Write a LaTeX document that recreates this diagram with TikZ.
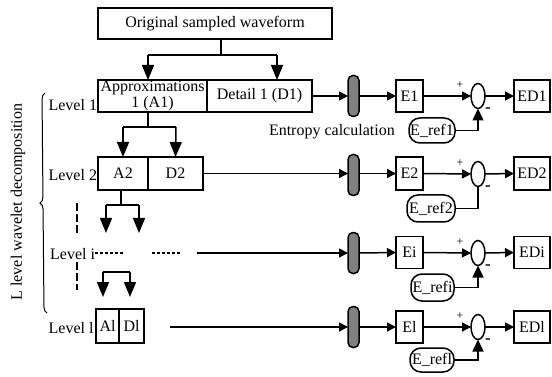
\documentclass[tikz,border=0pt]{standalone}
\usepackage{fontspec}
\setmainfont{Liberation Serif}
\usetikzlibrary{arrows.meta,shapes.geometric,decorations.pathreplacing}
\begin{document}
\begin{tikzpicture}[x=1pt,y=-1pt,
  font=\fontsize{16}{14}\selectfont,
  every node/.style={inner sep=0pt, outer sep=0pt},
  lw/.style={line width=1.5pt},
  box/.style={draw, lw},
  bar/.style={draw, lw, fill=black!50, rounded corners=5pt, minimum width=11pt, minimum height=41pt},
  sum/.style={draw, lw, ellipse, minimum width=14pt, minimum height=25pt},
  refbox/.style={draw, lw, rounded corners=11pt, minimum width=46pt, minimum height=26pt},
  arr/.style={lw, -{Triangle[length=9pt,width=9pt]}},
  bigarr/.style={lw, -{Triangle[length=15pt,width=12pt]}},
  uparr/.style={lw, -{Triangle[length=12pt,width=11pt]}},
  sign/.style={font=\fontsize{12}{12}\selectfont},
  minus/.style={font=\bfseries\fontsize{17}{17}\selectfont},
  lvl/.style={anchor=base east},
  dsh/.style={lw, dash pattern=on 3pt off 2pt},
  vdsh/.style={lw, dash pattern=on 8pt off 3pt}
]
\useasboundingbox (0,0) rectangle (552,377);

% decomposition tree
\node[box, minimum width=234pt, minimum height=31pt] (orig) at (215,23.5) {Original sampled waveform};
\node[box, minimum width=109pt, minimum height=32pt, align=center, font=\fontsize{16}{15.5}\selectfont] (A1) at (152.5,96) {Approximations\\1 (A1)};
\node[box, minimum width=105pt, minimum height=32pt] (D1) at (259.5,96) {Detail 1 (D1)};
\node[box, minimum width=50pt, minimum height=33pt] (A2) at (123,173.5) {A2};
\node[box, minimum width=55pt, minimum height=33pt] (D2) at (175.5,173.5) {D2};
\node[box, minimum width=23pt, minimum height=34pt] (Al) at (107.5,326) {Al};
\node[box, minimum width=25pt, minimum height=34pt] (Dl) at (131.5,326) {Dl};

\coordinate (s0) at (221,39.5);
\coordinate (s0m) at (221,55);
\coordinate (s0l) at (148,55);
\coordinate (s0r) at (277,55);
\draw[lw] (s0) -- (s0m);
\draw[lw] (s0l) -- (s0r);
\draw[bigarr] (s0l) -- (148,80);
\draw[bigarr] (s0r) -- (277,80);

\coordinate (s1) at (148,112);
\coordinate (s1l) at (123,127);
\coordinate (s1r) at (176,127);
\draw[lw] (s1) -- (148,127);
\draw[lw] (s1l) -- (s1r);
\draw[bigarr] (s1l) -- (A2.north);
\draw[bigarr] (s1r) -- (D2.north);

\coordinate (s2) at (121,190);
\coordinate (s2l) at (106,205);
\coordinate (s2r) at (139,205);
\coordinate (s2le) at (106,233);
\coordinate (s2re) at (139,233);
\draw[lw] (s2) -- (121,205);
\draw[lw] (s2l) -- (s2r);
\draw[bigarr] (s2l) -- (s2le);
\draw[bigarr] (s2r) -- (s2re);

\coordinate (s3l) at (103,272);
\coordinate (s3r) at (130,272);
\coordinate (s3le) at (103,297);
\coordinate (s3re) at (130,297);
\draw[lw] (s3l) -- (s3r);
\draw[bigarr] (s3l) -- (s3le);
\draw[bigarr] (s3r) -- (s3re);

% level labels
\node[lvl] (L1) at (97,111) {Level 1};
\node[lvl] (L2) at (97,181) {Level 2};
\node[lvl] (Li) at (95,259) {Level i};
\node[lvl] (Ll) at (93.5,333) {Level l};

\coordinate (di1) at (95,253);
\coordinate (di2) at (123,253);
\coordinate (di3) at (152,253);
\coordinate (di4) at (180,253);
\draw[dsh] (di1) -- (di2);
\draw[dsh] (di3) -- (di4);
\coordinate (v1) at (77,203);
\coordinate (v2) at (77,233);
\coordinate (v3) at (77,262);
\coordinate (v4) at (77,290);
\draw[vdsh] (v1) -- (v2);
\draw[vdsh] (v3) -- (v4);

% brace and side title
\coordinate (bb) at (47,313);
\coordinate (bt) at (45,93);
\draw[line width=1pt, decorate, decoration={brace, amplitude=6pt}] (bb) -- (bt);
\node[rotate=90] (title) at (18,202) {L level wavelet decomposition};

% row 1
\node[bar] (b1) at (353.5,96) {};
\node[box, minimum width=27pt, minimum height=32pt] (E1) at (409.5,96) {E1};
\node[sum] (c1) at (478,96) {};
\node[box, minimum width=36pt, minimum height=32pt] (ED1) at (532,96) {ED1};
\node[refbox, minimum width=46pt, minimum height=25pt] (r1) at (432,130.5) {E\_ref1};
\node[anchor=base west] (ent) at (269,135.5) {Entropy calculation};
\node[sign] (p1) at (460,85) {+};
\node[minus] (m1) at (488,110) {-};
\draw[arr] (D1.east) -- (b1.west);
\draw[arr] (b1.east) -- (E1.west);
\draw[arr] (E1.east) -- (c1.west);
\draw[arr] (c1.east) -- (ED1.west);
\draw[uparr] (r1.east) -| (c1.south);

% row 2
\node[bar] (b2) at (353.5,175) {};
\node[box, minimum width=27pt, minimum height=33pt] (E2) at (409.5,173.5) {E2};
\node[sum] (c2) at (478,174) {};
\node[box, minimum width=36pt, minimum height=33pt] (ED2) at (532,173.5) {ED2};
\node[refbox, minimum width=48pt, minimum height=27pt] (r2) at (431,208.5) {E\_ref2};
\node[sign] (p2) at (460,163) {+};
\node[minus] (m2) at (488,188) {-};
\draw[arr] (D2.east) -- (b2.west |- D2.east);
\draw[arr] (b2.east |- E2.west) -- (E2.west);
\draw[arr] (E2.east) -- (c2.west);
\draw[arr] (c2.east) -- (ED2.west);
\draw[lw] (r2.east) -| (c2.south);

% row i
\coordinate (ri0) at (197,253);
\node[bar] (bi) at (353.5,253) {};
\node[box, minimum width=27pt, minimum height=32pt] (Ei) at (409.5,252.5) {Ei};
\node[sum] (ci) at (478,253) {};
\node[box, minimum width=36pt, minimum height=32pt] (EDi) at (532,252.5) {EDi};
\node[refbox, minimum width=43pt, minimum height=27pt] (ri) at (432.5,287.5) {E\_refi};
\node[sign] (pi) at (460,242) {+};
\node[minus] (mi) at (488,267) {-};
\draw[arr] (ri0) -- (bi.west);
\draw[arr] (bi.east) -- (Ei.west);
\draw[arr] (Ei.east) -- (ci.west);
\draw[arr] (ci.east) -- (EDi.west);
\draw[uparr] (ri.east) -| (ci.south);

% row l
\coordinate (rl0) at (170,327);
\node[bar] (bl) at (353.5,327) {};
\node[box, minimum width=27pt, minimum height=32pt] (El) at (409.5,327) {El};
\node[sum] (cl) at (478,327) {};
\node[box, minimum width=36pt, minimum height=32pt] (EDl) at (532,327) {EDl};
\node[refbox, minimum width=44pt, minimum height=24pt] (rl) at (432,360) {E\_refl};
\node[sign] (pl) at (460,316) {+};
\node[minus] (ml) at (488,341) {-};
\draw[arr] (rl0) -- (bl.west);
\draw[arr] (bl.east) -- (El.west);
\draw[arr] (El.east) -- (cl.west);
\draw[arr] (cl.east) -- (EDl.west);
\draw[uparr] (rl.east) -| (cl.south);
\end{tikzpicture}
\end{document}
